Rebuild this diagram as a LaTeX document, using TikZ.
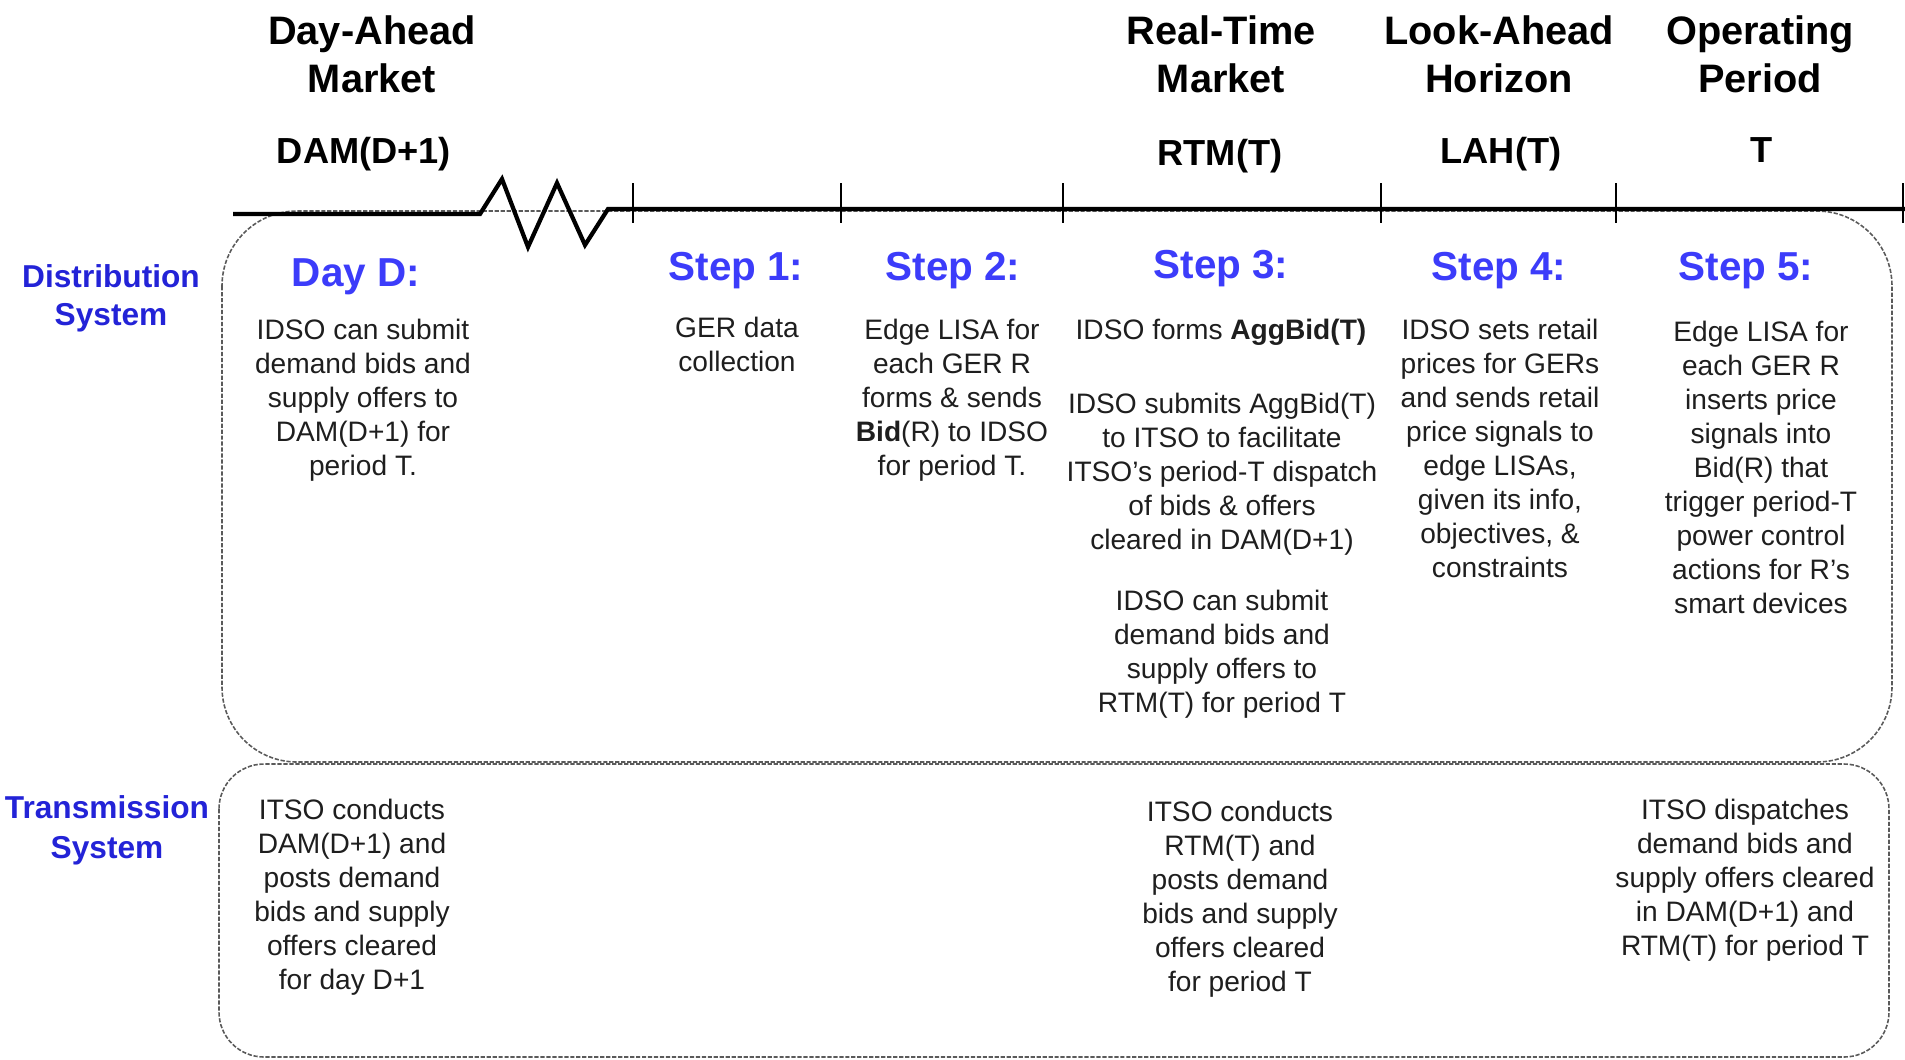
\documentclass[tikz,border=0pt]{standalone}
\usepackage{fontspec}
\setmainfont{Liberation Sans}
\definecolor{stepblue}{RGB}{60,60,250}
\definecolor{sysblue}{RGB}{35,35,215}
\definecolor{bodytext}{RGB}{30,30,30}
\definecolor{boxline}{RGB}{90,90,90}
\begin{document}
\begin{tikzpicture}[x=0.01cm,y=-0.01cm,
  head/.style={font=\fontsize{11.3}{13.6}\selectfont\bfseries, align=center, anchor=north, inner sep=0pt},
  subhead/.style={font=\fontsize{10.3}{12.4}\selectfont\bfseries, align=center, anchor=north, inner sep=0pt},
  steplabel/.style={font=\fontsize{11.5}{13.8}\selectfont\bfseries, text=stepblue, anchor=north, inner sep=0pt},
  syslabel/.style={font=\fontsize{9}{10.8}\selectfont\bfseries, text=sysblue, align=center, anchor=north, inner sep=0pt},
  body/.style={font=\fontsize{8}{9.68}\selectfont, text=bodytext, align=center, anchor=north, inner sep=0pt},
  panel/.style={draw=boxline, line width=0.45pt, dash pattern=on 1.2pt off 0.5pt},
  timeline/.style={line width=1.2pt, line join=miter},
  tickmark/.style={line width=0.6pt}]
\useasboundingbox (0,0) rectangle (1905,1059);

% system panels
\draw[panel, rounded corners=0.75cm] (222,211) rectangle (1892,762);
\draw[panel, rounded corners=0.45cm] (219,764) rectangle (1889,1057);

% time axis with a break after the day-ahead market
\draw[timeline] (233,214) -- (480,214) -- (502,179) -- (528,247) -- (557,183)
  -- (585,245) -- (608,209) -- (1905,209);
\foreach \x in {633,841,1063,1381,1616,1903}
  \draw[tickmark] (\x,183) -- (\x,223);

% column headings
\node[head] (hdam) at (372,15) {Day-Ahead\\Market};
\node[subhead] (dam) at (364,137) {DAM(D+1)};
\node[head] (hrtm) at (1221,15) {Real-Time\\Market};
\node[subhead] (rtm) at (1220,139) {RTM(T)};
\node[head] (hlah) at (1499,15) {Look-Ahead\\Horizon};
\node[subhead] (lah) at (1501,137) {LAH(T)};
\node[head] (hop) at (1760,15) {Operating\\Period};
\node[subhead] (op) at (1762,137) {T};

% row labels
\node[syslabel] (dist) at (111,264) {Distribution\\System};
\node[syslabel, font=\fontsize{9}{11.2}\selectfont\bfseries] (trans) at (107,795) {Transmission\\System};

% step labels
\node[steplabel] (dayd) at (356,258) {Day D:};
\node[steplabel] (s1) at (736,252) {Step 1:};
\node[steplabel] (s2) at (953,252) {Step 2:};
\node[steplabel] (s3) at (1221,250) {Step 3:};
\node[steplabel] (s4) at (1499,252) {Step 4:};
\node[steplabel] (s5) at (1746,252) {Step 5:};

% distribution system actions
\node[body] (tdayd) at (363,318) {IDSO can submit\\demand bids and\\supply offers to\\DAM(D+1) for\\period T.};
\node[body] (ts1) at (737,316) {GER data\\collection};
\node[body] (ts2) at (952,318) {Edge LISA for\\each GER R\\forms \& sends\\\textbf{Bid}(R) to IDSO\\for period T.};
\node[body] (ts3a) at (1221,318) {IDSO forms \textbf{AggBid(T)}};
\node[body] (ts3b) at (1222,392) {IDSO submits AggBid(T)\\to ITSO to facilitate\\ITSO’s period-T dispatch\\of bids \& offers\\cleared in DAM(D+1)};
\node[body] (ts3c) at (1222,589) {IDSO can submit\\demand bids and\\supply offers to\\RTM(T) for period T};
\node[body] (ts4) at (1500,318) {IDSO sets retail\\prices for GERs\\and sends retail\\price signals to\\edge LISAs,\\given its info,\\objectives, \&\\constraints};
\node[body] (ts5) at (1761,320) {Edge LISA for\\each GER R\\inserts price\\signals into\\Bid(R) that\\trigger period-T\\power control\\actions for R’s\\smart devices};

% transmission system actions
\node[body] (tt1) at (352,798) {ITSO conducts\\DAM(D+1) and\\posts demand\\bids and supply\\offers cleared\\for day D+1};
\node[body] (tt2) at (1240,800) {ITSO conducts\\RTM(T) and\\posts demand\\bids and supply\\offers cleared\\for period T};
\node[body] (tt3) at (1745,798) {ITSO dispatches\\demand bids and\\supply offers cleared\\in DAM(D+1) and\\RTM(T) for period T};
\end{tikzpicture}
\end{document}
